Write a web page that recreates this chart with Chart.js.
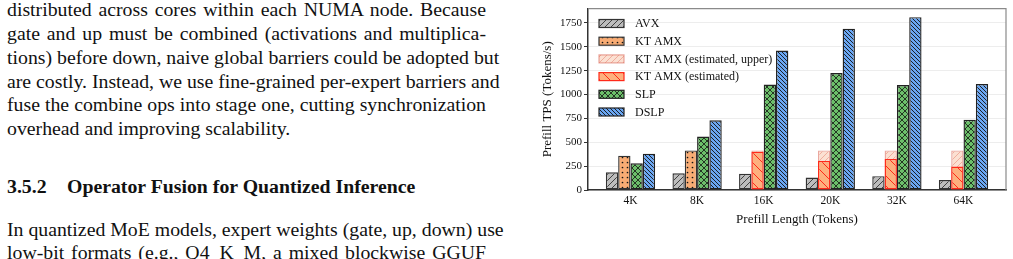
<!DOCTYPE html>
<html>
<head>
<meta charset="utf-8">
<script src="https://cdn.jsdelivr.net/npm/chart.js@4.4.1/dist/chart.umd.min.js"></script>
<style>
  html, body { margin: 0; padding: 0; background: #fff; }
  body { width: 1013px; height: 259px; overflow: hidden; position: relative;
         font-family: 'Liberation Serif', 'Times New Roman', serif; color: #111; }
  .ln { position: absolute; left: 7px; width: 479px; font-size: 19.8px; line-height: 23px;
        white-space: nowrap; text-align: justify; text-align-last: justify; }
  .ln.last { text-align: left; text-align-last: left; }
  .hd { font-weight: bold; }
  .hd span { display: inline-block; width: 60px; }
  #chartBox { position: absolute; left: 530px; top: 0; width: 480px; height: 235px; }
</style>
</head>
<body>
<div class="ln" style="top:-1.6px">distributed across cores within each NUMA node. Because</div>
<div class="ln" style="top:22.1px">gate and up must be combined (activations and multiplica-</div>
<div class="ln" style="top:45.9px">tions) before down, naive global barriers could be adopted but</div>
<div class="ln" style="top:69.6px">are costly. Instead, we use fine-grained per-expert barriers and</div>
<div class="ln" style="top:93.4px">fuse the combine ops into stage one, cutting synchronization</div>
<div class="ln last" style="top:117.1px">overhead and improving scalability.</div>
<div class="ln last hd" style="top:175px"><span>3.5.2</span>Operator Fusion for Quantized Inference</div>
<div class="ln" style="top:217.7px">In quantized MoE models, expert weights (gate, up, down) use</div>
<div class="ln" style="top:241.4px">low-bit formats (e.g., Q4_K_M, a mixed blockwise GGUF</div>

<div id="chartBox"><canvas id="tpsChart"></canvas></div>

<script>
// Prefill throughput per prefill length
var lengths = ["4K", "8K", "16K", "20K", "32K", "64K"];
var avx = [185, 175, 170, 130, 145, 105];
var ktAmx = [360, 415, null, null, null, null];
var ktAmxUpper = [null, null, 415, 415, 415, 415];
var ktAmxEst = [null, null, 400, 305, 325, 245];
var slp = [280, 560, 1105, 1225, 1100, 735];
var dslp = [380, 730, 1460, 1690, 1810, 1110];
var yTicks = [0, 250, 500, 750, 1000, 1250, 1500, 1750];

// small tiled canvases used as hatch fills
function makePattern(bg, line, kind, size, lw) {
    var c = document.createElement('canvas');
    c.width = c.height = size;
    var g = c.getContext('2d');
    g.fillStyle = bg;
    g.fillRect(0, 0, size, size);
    g.strokeStyle = line;
    g.fillStyle = line;
    g.lineWidth = lw;
    var s = size;
    if (kind === '/' || kind === 'x') {
        g.beginPath();
        g.moveTo(0, s); g.lineTo(s, 0);
        g.moveTo(-1, 1); g.lineTo(1, -1);
        g.moveTo(s - 1, s + 1); g.lineTo(s + 1, s - 1);
        g.stroke();
    }
    if (kind === '\\' || kind === 'x') {
        g.beginPath();
        g.moveTo(0, 0); g.lineTo(s, s);
        g.moveTo(-1, s - 1); g.lineTo(1, s + 1);
        g.moveTo(s - 1, -1); g.lineTo(s + 1, 1);
        g.stroke();
    }
    if (kind === '.') {
        g.beginPath();
        g.arc(s / 2, s / 2, lw, 0, Math.PI * 2);
        g.fill();
    }
    return g.createPattern(c, 'repeat');
}

var fills = {
    avx: makePattern('#bdbdbd', '#333', '/', 6, 0.9),
    kt: makePattern('#f8ac74', '#111', '.', 5, 0.85),
    upper: makePattern('#fbe0d2', 'rgba(228,120,100,0.55)', '/', 6, 0.9),
    est: makePattern('#fdb07e', '#ff2a1a', '\\', 10, 1),
    slp: makePattern('#6cbf6a', '#111', 'x', 6, 0.8),
    dslp: makePattern('#6aa6f2', '#111', '\\', 4, 0.9)
};

function points(arr) {
    return arr.map(function (v, i) { return { x: i, y: v }; });
}

var datasets = [
    { label: "AVX", data: points(avx), stack: 'a', order: 0, backgroundColor: fills.avx, borderColor: '#333' },
    { label: "KT AMX", data: points(ktAmx), stack: 'b', order: 1, backgroundColor: fills.kt, borderColor: '#333' },
    { label: "KT AMX (estimated, upper)", data: points(ktAmxUpper), stack: 'b', order: 1, backgroundColor: fills.upper, borderColor: 'rgba(220,110,95,0.6)' },
    { label: "KT AMX (estimated)", data: points(ktAmxEst), stack: 'b', order: 0, backgroundColor: fills.est, borderColor: '#ff2a1a' },
    { label: "SLP", data: points(slp), stack: 'c', order: 1, backgroundColor: fills.slp, borderColor: '#222' },
    { label: "DSLP", data: points(dslp), stack: 'd', order: 1, backgroundColor: fills.dslp, borderColor: '#222' }
];
datasets.forEach(function (d) {
    d.borderWidth = 1.4;
    d.borderSkipped = false;
    d.categoryPercentage = 0.74;
    d.barPercentage = 1.0;
});

// legend inside the plot, drawn under the bars
var insideLegend = {
    id: 'insideLegend',
    beforeDatasetsDraw: function (chart) {
        var ctx = chart.ctx;
        var x0 = chart.chartArea.left + 11;
        ctx.save();
        ctx.font = "12px 'Liberation Serif', serif";
        ctx.textBaseline = 'middle';
        chart.data.datasets.forEach(function (d, i) {
            var cy = 23.5 + i * 17.7;
            ctx.fillStyle = d.backgroundColor;
            ctx.fillRect(x0, cy - 4, 25, 8);
            ctx.lineWidth = 1.2;
            ctx.strokeStyle = d.borderColor;
            ctx.strokeRect(x0, cy - 4, 25, 8);
            ctx.fillStyle = '#111';
            ctx.fillText(d.label, x0 + 36, cy + 0.5);
        });
        ctx.restore();
    },
    afterDraw: function (chart) {
        var a = chart.chartArea;
        var ctx = chart.ctx;
        ctx.save();
        ctx.strokeStyle = '#8a8a8a';
        ctx.lineWidth = 1.2;
        ctx.beginPath();
        ctx.moveTo(a.left, a.top);
        ctx.lineTo(a.right, a.top);
        ctx.lineTo(a.right, a.bottom);
        ctx.stroke();
        ctx.restore();
    }
};

Chart.defaults.font.family = "'Liberation Serif', 'Times New Roman', serif";
Chart.defaults.color = '#111';

var ctx = document.getElementById('tpsChart').getContext('2d');
var tpsChart = new Chart(ctx, {
    type: 'bar',
    data: { datasets: datasets },
    plugins: [insideLegend],
    options: {
        responsive: true,
        maintainAspectRatio: false,
        animation: false,
        layout: { padding: { left: 0, top: 8, right: 4, bottom: 0 } },
        plugins: {
            legend: { display: false },
            tooltip: { enabled: false }
        },
        scales: {
            x: {
                type: 'linear',
                offset: false,
                min: -0.638,
                max: 5.638,
                grid: { display: false, drawTicks: false, offset: false },
                border: { color: '#333', width: 1.5 },
                ticks: {
                    stepSize: 1,
                    includeBounds: false,
                    autoSkip: false,
                    padding: 4,
                    font: { size: 11.5 },
                    callback: function (v) { return Number.isInteger(v) && lengths[v] ? lengths[v] : ''; }
                },
                title: { display: true, text: 'Prefill Length (Tokens)', font: { size: 13 }, padding: { top: 0, bottom: 8 } },
                afterFit: function (s) { s.height = 45; }
            },
            y: {
                stacked: false,
                min: 0,
                max: 1900,
                grid: { color: 'rgba(0,0,0,0.07)', tickColor: '#333', tickLength: 4 },
                border: { color: '#333', width: 1.5 },
                ticks: {
                    stepSize: 250,
                    includeBounds: false,
                    padding: 2,
                    font: { size: 11 },
                    callback: function (v) { return yTicks.indexOf(v) >= 0 ? String(v) : ''; }
                },
                title: { display: true, text: 'Prefill TPS (Tokens/s)', font: { size: 13 }, padding: { top: 10, bottom: 0 } },
                afterFit: function (s) { s.width = 58; }
            }
        }
    }
});
</script>
</body>
</html>
